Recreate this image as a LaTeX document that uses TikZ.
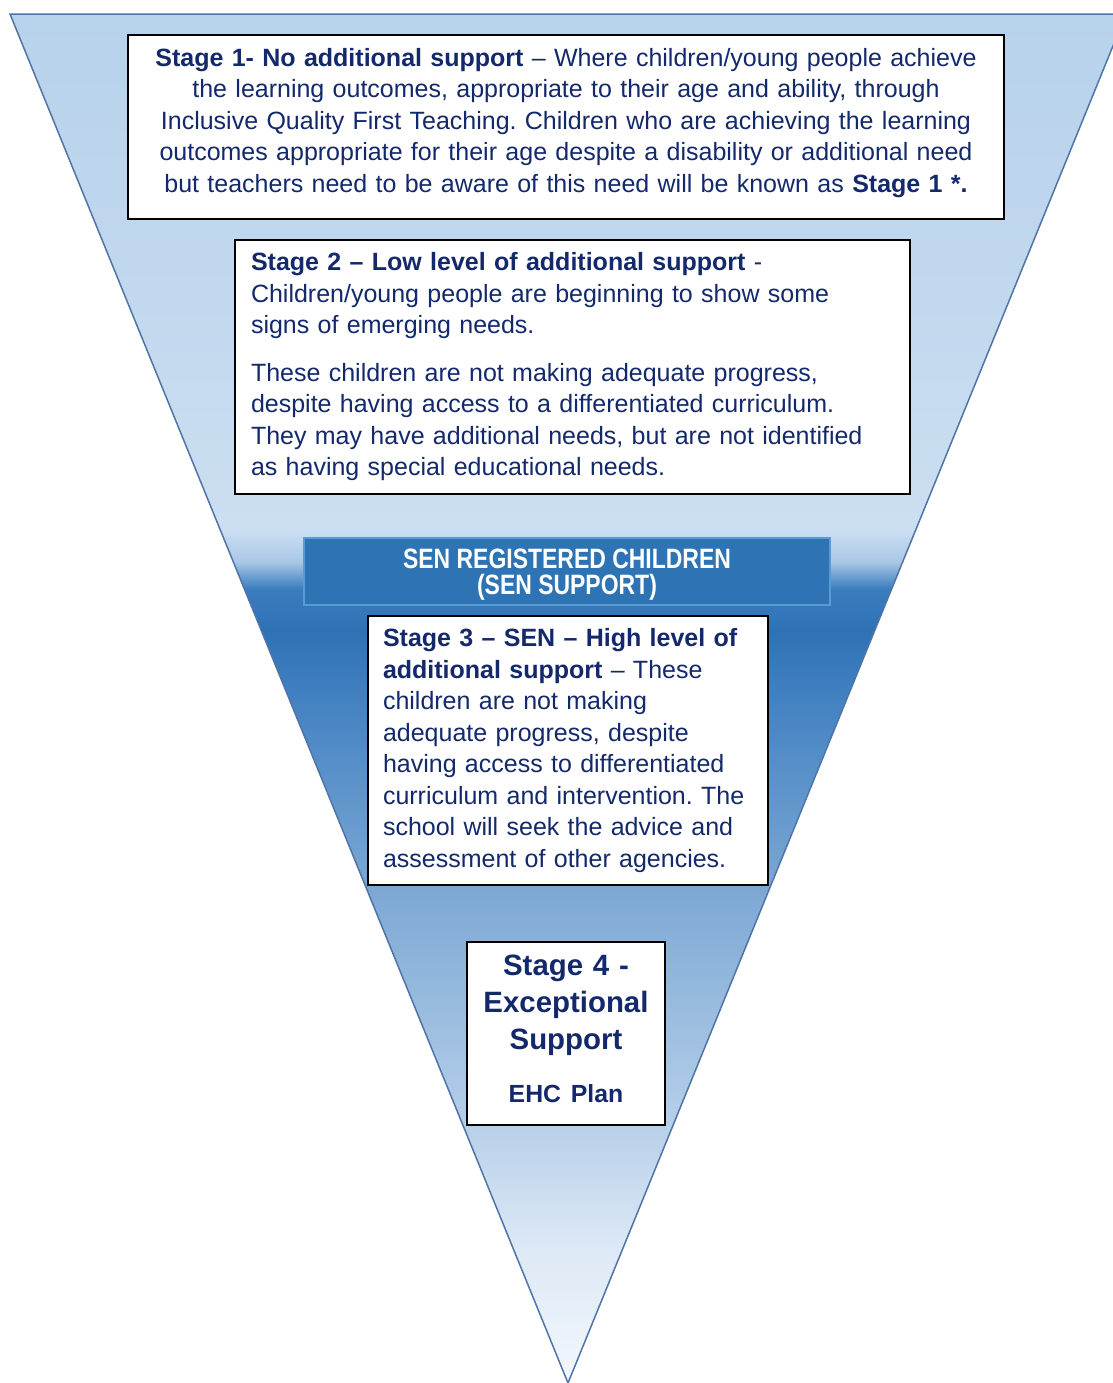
\documentclass[tikz,border=0pt]{standalone}
\usepackage{fontspec}
\setmainfont{Liberation Sans}
\newfontfamily\narrowfont[FakeStretch=0.82]{Liberation Sans}
\frenchspacing

\definecolor{navy}{HTML}{13296B}
\definecolor{edgeblue}{HTML}{4F74A8}
\definecolor{senblue}{HTML}{2E74B5}
\definecolor{senedge}{HTML}{5B9BD5}
\definecolor{tipwhite}{HTML}{F2F7FC}
\definecolor{paleA}{HTML}{DDE9F5}
\definecolor{paleB}{HTML}{B0CBE7}
\definecolor{midblue}{HTML}{7FAAD5}
\definecolor{darkA}{HTML}{4482C2}
\definecolor{darkB}{HTML}{2E72B5}
\definecolor{darkC}{HTML}{3A7CBE}
\definecolor{lightA}{HTML}{A9C8E6}
\definecolor{lightB}{HTML}{CCDFF1}
\definecolor{topA}{HTML}{C2D8EE}
\definecolor{topB}{HTML}{B7D2EB}

\pgfdeclareverticalshading{pyramid}{100bp}{%
  color(0bp)=(tipwhite); color(25bp)=(tipwhite); color(29.9bp)=(paleA);
  color(35.3bp)=(paleB); color(42.6bp)=(midblue); color(49.9bp)=(darkA);
  color(52.5bp)=(darkB); color(54bp)=(darkC); color(55bp)=(lightA);
  color(56.2bp)=(lightB); color(64.6bp)=(topA); color(75bp)=(topB);
  color(100bp)=(topB)}

\begin{document}
\begin{tikzpicture}
[
x=0.5pt, y=-0.5pt,
stagebox/.style={rectangle, draw=black, line width=0.8pt, fill=white, text=navy,
                 font=\fontsize{12.5}{15.75}\selectfont},
senband/.style={rectangle, draw=senedge, line width=0.6pt, fill=senblue, text=white,
                 align=center, minimum width=263pt, minimum height=33.5pt, inner ysep=0.5pt,
                 font={\narrowfont\bfseries\fontsize{14}{13}\selectfont}},
]
\useasboundingbox (0,0) rectangle (1113,1383);
% inverted pyramid
\coordinate (tl) at (10,14);
\coordinate (tr) at (1126,14);
\coordinate (tip) at (568,1383);
\draw [shading=pyramid, draw=edgeblue, line width=0.75pt] (tl) -- (tr) -- (tip) -- cycle;

\node (s1) [stagebox, text width=430pt, inner xsep=4pt, align=center, minimum height=92pt] at (566,127)
  {\textbf{Stage 1- No additional support} -- Where children/young people achieve\\
   the learning outcomes, appropriate to their age and ability, through\\
   Inclusive Quality First Teaching. Children who are achieving the learning\\
   outcomes appropriate for their age despite a disability or additional need\\
   but teachers need to be aware of this need will be known as \textbf{Stage 1 *.}\par\vspace{4pt}};

\node (s2) [stagebox, text width=321.5pt, inner xsep=8pt, align=left, minimum height=127pt] at (572.5,367)
  {\textbf{Stage 2 -- Low level of additional support} -\\
   Children/young people are beginning to show some\\
   signs of emerging needs.\\[8pt]
   These children are not making adequate progress,\\
   despite having access to a differentiated curriculum.\\
   They may have additional needs, but are not identified\\
   as having special educational needs.};

\node (sen) [senband] at (567,571.5) {\rule{0pt}{13pt}SEN REGISTERED CHILDREN\\(SEN SUPPORT)};

\node (s3) [stagebox, text width=185pt, inner xsep=7.5pt, align=left, minimum height=134.5pt] at (568,750.5)
  {\textbf{Stage 3 -- SEN -- High level of}\\
   \textbf{additional support} -- These\\
   children are not making\\
   adequate progress, despite\\
   having access to differentiated\\
   curriculum and intervention. The\\
   school will seek the advice and\\
   assessment of other agencies.};

\node (s4) [stagebox, text width=91pt, inner xsep=4pt, align=center, minimum height=91.5pt,
            font=\bfseries\fontsize{14.7}{18.5}\selectfont] at (566,1033.5)
  {Stage 4 -\\Exceptional\\Support\\[8pt]{\fontsize{12.4}{18.5}\selectfont EHC Plan}\par\vspace{5pt}};
\end{tikzpicture}
\end{document}
